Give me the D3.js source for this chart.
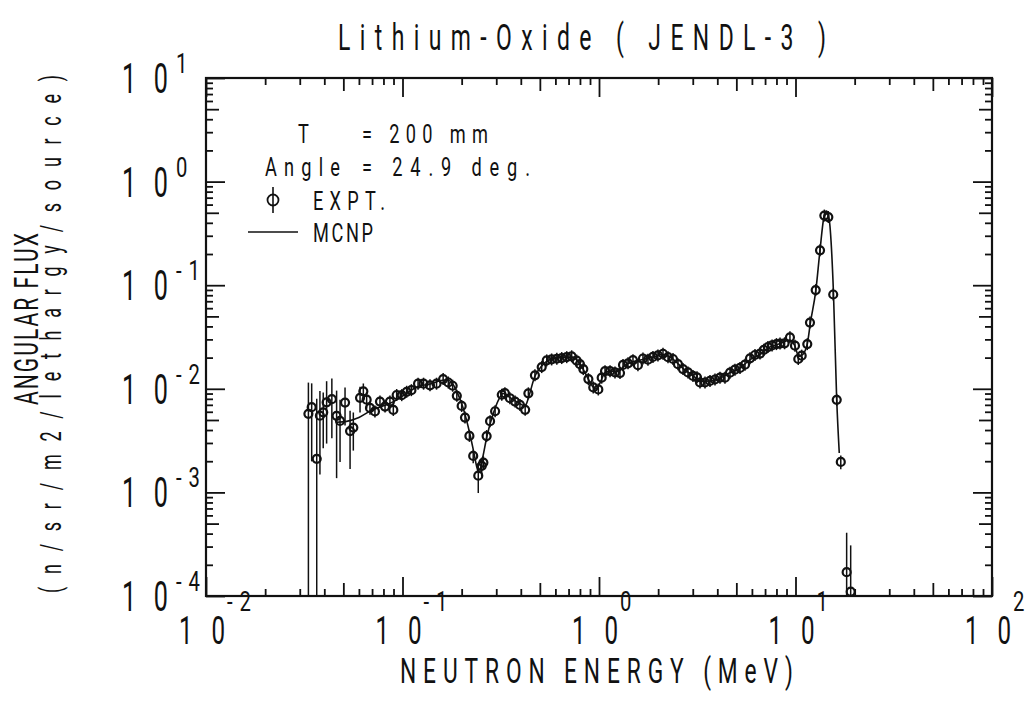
<!DOCTYPE html>
<html><head><meta charset="utf-8">
<script src="https://cdn.jsdelivr.net/npm/d3@7"></script>
<style>
body{margin:0;background:#fff;}
svg text{font-family:"Roboto","Liberation Sans Narrow","DejaVu Sans Condensed",sans-serif;font-weight:400;fill:#111;}
</style></head><body>
<svg id="chart" width="1035" height="708"></svg>
<script>
// Measured angular flux, Li2O slab, T = 200 mm, 24.9 deg.
const exptE = [0.0332,0.0345,0.0366,0.0380,0.0395,0.0411,0.0437,0.0462,0.0481,0.0510,0.0541,0.0562,0.0608,0.0632,0.0657,0.0683,0.0724,0.0768,0.0815,0.0863,0.0898,0.0934,0.0991,0.105,0.111,0.120,0.128,0.138,0.149,0.161,0.171,0.180,0.189,0.200,0.208,0.219,0.229,0.243,0.253,0.258,0.268,0.279,0.296,0.320,0.332,0.352,0.374,0.396,0.421,0.437,0.472,0.511,0.542,0.574,0.610,0.646,0.685,0.726,0.770,0.800,0.832,0.883,0.935,0.992,1.032,1.073,1.138,1.206,1.279,1.325,1.405,1.489,1.578,1.674,1.775,1.882,1.995,2.117,2.245,2.380,2.523,2.676,2.837,3.008,3.153,3.266,3.463,3.672,3.893,4.128,4.376,4.641,4.920,5.220,5.534,5.867,6.221,6.596,6.90,7.24,7.60,8.00,8.34,8.80,9.37,9.94,10.33,10.75,11.48,11.85,12.67,13.33,14.02,14.69,15.56,16.21,17.0,18.21,19.09];
const exptFlux = [0.00574,0.00664,0.00211,0.00550,0.00593,0.00740,0.00794,0.00549,0.00490,0.00737,0.00391,0.00422,0.00818,0.00946,0.00786,0.00654,0.00605,0.00753,0.00674,0.00752,0.00625,0.00871,0.00868,0.00936,0.00970,0.0112,0.0112,0.0108,0.0112,0.0124,0.0115,0.0107,0.00855,0.00683,0.00527,0.00351,0.00225,0.00145,0.00180,0.00194,0.00350,0.00487,0.00607,0.00876,0.00907,0.00811,0.00753,0.00699,0.00626,0.00904,0.0135,0.0162,0.0188,0.0192,0.0195,0.0198,0.0202,0.0206,0.0187,0.0173,0.0155,0.0124,0.0103,0.00985,0.0128,0.0148,0.0148,0.0144,0.0142,0.0170,0.0176,0.0189,0.0169,0.0196,0.0191,0.0203,0.0210,0.0218,0.0202,0.0194,0.0173,0.0155,0.0144,0.0133,0.0129,0.0115,0.0115,0.0119,0.0123,0.0128,0.0128,0.0143,0.0153,0.0159,0.0171,0.0197,0.0212,0.0219,0.0238,0.0253,0.0262,0.0270,0.0273,0.0275,0.0314,0.0261,0.0194,0.0209,0.0270,0.0436,0.0897,0.217,0.470,0.455,0.0813,0.00782,0.00197,0.000170,0.000110];
// one-sigma uncertainty, percent of the measured flux
const exptErrPct = [100,70,280,73,55,60,58,75,60,40,57,40,28,19,18,14,12,10,10,9,9,8,8,8,8,7,7,7,7,7,7,7,8,9,10,12,15,32,20,15,12,10,8,7,7,7,7,7,7,7,6,6,6,6,6,6,6,6,6,6,6,6,6,6,6,6,6,6,6,6,6,6,6,6,6,6,6,6,6,6,6,6,6,6,6,6,6,6,6,6,6,6,6,6,6,6,6,6,6,6,6,6,6,6,6,6,6,6,6,6,6,6,6,6,6,8,15,140,180];

// MCNP calculation with JENDL-3 data
const mcnpE = [0.0462,0.052,0.060,0.070,0.080,0.090,0.100,0.120,0.140,0.160,0.170,0.180,0.190,0.200,0.210,0.220,0.230,0.240,0.245,0.255,0.270,0.290,0.310,0.325,0.350,0.400,0.420,0.440,0.470,0.510,0.550,0.600,0.680,0.740,0.780,0.830,0.880,0.930,0.970,1.02,1.07,1.15,1.25,1.35,1.5,1.7,1.9,2.1,2.3,2.5,2.7,3.0,3.3,3.7,4.1,4.6,5.2,5.9,6.6,7.3,8.3,9.3,9.9,10.4,10.9,11.5,11.9,12.7,13.3,14.0,14.4,14.8,15.6,16.2,16.7];
const mcnpFlux = [0.00475,0.00485,0.00529,0.00624,0.00685,0.00752,0.0085,0.0105,0.0112,0.0121,0.0121,0.0112,0.0092,0.0072,0.0053,0.0037,0.0025,0.0017,0.00155,0.0021,0.0036,0.0058,0.0080,0.0090,0.0083,0.0071,0.0068,0.0085,0.0130,0.0165,0.0188,0.0196,0.0202,0.0202,0.0185,0.0155,0.0125,0.0105,0.0099,0.0118,0.0142,0.0148,0.0147,0.0168,0.0183,0.0193,0.0203,0.0214,0.0203,0.0178,0.0155,0.0135,0.0118,0.0119,0.0126,0.0142,0.0158,0.0192,0.0215,0.0250,0.0272,0.0295,0.0262,0.0205,0.0215,0.0275,0.0430,0.0900,0.210,0.470,0.520,0.450,0.085,0.0080,0.0024];

const xTickExponents = [-2,-1,0,1,2];
const yTickExponents = [-4,-3,-2,-1,0,1];
const titleText = "Lithium-Oxide ( JENDL-3 )";
const xTitle = "NEUTRON ENERGY  (MeV)";
const yTitle1 = "ANGULAR FLUX";
const yTitle2 = "(n/sr/m2/lethargy/source)";
const legendT = ["T", "= 200  mm"];
const legendAngle = ["Angle", "= 24.9  deg."];
const legendExpt = "EXPT.";
const legendMcnp = "MCNP";

const svg = d3.select("#chart");
const L = 206, R = 992, T = 78, B = 596;
const x = d3.scaleLog().domain([1e-2, 1e2]).range([L, R]);
const y = d3.scaleLog().domain([1e-4, 1e1]).range([B, T]);

const ink = "#111";

// narrow, widely spaced lettering: squeeze glyphs horizontally, then spread to the given run length
function label(str, px, py, size, len, sx, rot) {
  const g = svg.append("g")
    .attr("transform", `translate(${px},${py}) rotate(${rot || 0}) scale(${sx},1)`);
  g.append("text").attr("x", 0).attr("y", 0).attr("font-size", size)
    .attr("textLength", len / sx).attr("lengthAdjust", "spacing").text(str);
}

// tick groups: decades, fives, other minors
function tickSets(lo, hi) {
  const major = [], mid = [], minor = [];
  for (let e = lo; e <= hi; e++) {
    major.push(Math.pow(10, e));
    if (e < hi) for (let m = 2; m <= 9; m++) (m === 5 ? mid : minor).push(m * Math.pow(10, e));
  }
  return {major, mid, minor};
}
const xt = tickSets(-2, 2), yt = tickSets(-4, 1);
const sizes = [["major", 19], ["mid", 13], ["minor", 7]];

function addAxis(gen, scale, sets, tr) {
  sizes.forEach(([k, s]) => {
    const g = svg.append("g").attr("transform", tr)
      .call(gen(scale).tickValues(sets[k]).tickSize(-s).tickFormat(""));
    g.select(".domain").remove();
    g.selectAll("line").attr("stroke", ink).attr("stroke-width", 1.8);
  });
}
addAxis(d3.axisBottom, x, xt, `translate(0,${B})`);
addAxis(d3.axisTop, x, xt, `translate(0,${T})`);
addAxis(d3.axisLeft, y, yt, `translate(${L},0)`);
addAxis(d3.axisRight, y, yt, `translate(${R},0)`);

svg.append("rect").attr("x", L).attr("y", T).attr("width", R - L).attr("height", B - T)
  .attr("fill", "none").attr("stroke", ink).attr("stroke-width", 2.2);

// tick labels: 10 with superscript exponent
xTickExponents.forEach(e => {
  const px = x(Math.pow(10, e));
  label("1 0", px - 27, 644, 39, 46, 0.62);
  const s = String(e);
  label(s, px + 21, 611, 27, s.length > 1 ? 24 : 10, 0.75);
});
yTickExponents.forEach(e => {
  const py = y(Math.pow(10, e));
  label("1 0", 122, py + 15, 42, 46, 0.6);
  const s = String(e);
  label(s, 176, py - 5, 27, s.length > 1 ? 24 : 10, 0.75);
});

// titles
label(titleText, 338, 50, 37, 488, 0.62);
label(xTitle, 400, 683, 35, 393, 0.65);
label(yTitle1, 38, 405, 34, 172, 0.62, -90);
label(yTitle2, 61, 593, 29, 518, 0.62, -90);

// legend block
label(legendT[0], 298, 143, 26, 11, 0.7);
label(legendT[1], 362, 143, 26, 126, 0.7);
label(legendAngle[0], 265, 176, 26, 75, 0.7);
label(legendAngle[1], 362, 176, 26, 168, 0.7);
label(legendExpt, 313, 210, 26, 72, 0.7);
label(legendMcnp, 313, 242, 26, 60, 0.7);
svg.append("circle").attr("cx", 273).attr("cy", 200).attr("r", 5.5)
  .attr("fill", "none").attr("stroke", ink).attr("stroke-width", 1.8);
svg.append("line").attr("x1", 273).attr("x2", 273).attr("y1", 187).attr("y2", 213)
  .attr("stroke", ink).attr("stroke-width", 1.6);
svg.append("line").attr("x1", 248).attr("x2", 298).attr("y1", 232).attr("y2", 232)
  .attr("stroke", ink).attr("stroke-width", 1.6);

// plot area clip
svg.append("clipPath").attr("id", "plotclip").append("rect")
  .attr("x", L).attr("y", T).attr("width", R - L).attr("height", B - T);
const plot = svg.append("g").attr("clip-path", "url(#plotclip)");

// MCNP curve
const mcnp = mcnpE.map((e, i) => [e, mcnpFlux[i]]);
plot.append("path").datum(mcnp)
  .attr("d", d3.line().x(d => x(d[0])).y(d => y(d[1])).curve(d3.curveMonotoneX))
  .attr("fill", "none").attr("stroke", ink).attr("stroke-width", 1.6);

// measured points with error bars
const expt = exptE.map((e, i) => ({e, f: exptFlux[i], p: exptErrPct[i] / 100}));
const pts = plot.selectAll("g.pt").data(expt).join("g").attr("class", "pt");
pts.append("line")
  .attr("x1", d => x(d.e)).attr("x2", d => x(d.e))
  .attr("y1", d => Math.min(y(d.f * (1 + d.p)), y(d.f) - 6))
  .attr("y2", d => d.f * (1 - d.p) > 1e-6 ? Math.max(y(d.f * (1 - d.p)), y(d.f) + 6) : B + 5)
  .attr("stroke", ink).attr("stroke-width", 1.5);
pts.append("circle").attr("cx", d => x(d.e)).attr("cy", d => y(d.f)).attr("r", 4)
  .attr("fill", "none").attr("stroke", ink).attr("stroke-width", 2.2);
</script>
</body></html>
